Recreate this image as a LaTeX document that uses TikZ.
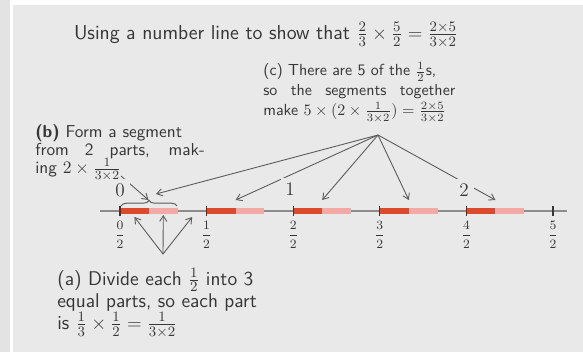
\documentclass[tikz,border=0pt]{standalone}
\usepackage{amsmath}
\usepackage{xcolor}
\usepackage{tikz}
\usetikzlibrary{positioning, arrows.meta, decorations.pathreplacing, calc}
\definecolor{panelgray}{HTML}{E9E9E9}
\definecolor{edgegray}{HTML}{E3E3E3}
\definecolor{inkgray}{HTML}{363636}
\definecolor{arrowgray}{HTML}{5A5A5A}
\definecolor{axisgray}{HTML}{8C8C8C}
\definecolor{partred}{HTML}{DC4A2E}
\definecolor{partpink}{HTML}{F3A9A6}
\newcommand\snugleading{\lineskiplimit=-20pt\relax\lineskip=0pt\relax}

\begin{document}
\begin{tikzpicture}[x=0.625pt, y=-0.625pt, font=\sffamily, text=inkgray,
  note/.style={inner sep=0pt, anchor=north west, align=justify},
  pointer/.style={-{Straight Barb[length=3.5pt,width=4.5pt]}, arrowgray, line width=0.55pt},
  halfmark/.style={inner sep=1pt, font=\fontsize{8.5}{10}\selectfont},
  wholemark/.style={inner sep=3pt, fill=panelgray, font=\large}]
  \useasboundingbox (0,0) rectangle (583,352);
  \fill[edgegray] (0,0) rectangle (583,352);
  \fill[white] (10,0) rectangle (583,5);
  \fill[white] (10,0) rectangle (13,352);
  \fill[panelgray] (13,5) rectangle (583,352);

  \node[font=\fontsize{12.6}{15}\selectfont\sffamily] (title) at (266,35)
    {Using a number line to show that $\frac{2}{3}\times\frac{5}{2}=\frac{2\times5}{3\times2}$};

  % number line
  \coordinate (lstart) at (100,211);
  \coordinate (lend) at (567,211);
  \draw[axisgray, line width=1pt] (lstart) -- (lend);
  \foreach \k in {0,...,5}
    \coordinate (t\k) at ({120+86.6*\k},211);
  \foreach \k in {0,...,4} {
    \draw[partred, line width=3.6pt] (t\k) -- ++(28.9,0);
    \draw[partpink, line width=3.6pt] ($(t\k)+(28.9,0)$) -- ++(28.9,0);
  }
  \foreach \k in {0,...,5} {
    \draw[inkgray, line width=0.8pt] ($(t\k)+(0,-5)$) -- ($(t\k)+(0,5)$);
    \node[halfmark] (f\k) at ($(t\k)+(0,24)$) {$\dfrac{\k}{2}$};
  }

  % brace over the first segment
  \coordinate (bracetip) at (148.5,200);
  \draw[arrowgray, line width=0.6pt, decorate, decoration={brace, amplitude=3.5pt}]
    (121,206) -- (177,206);

  % (b)
  \node[note, text width=106pt, font=\fontsize{10.8}{11.4}\selectfont\sffamily\snugleading] (stepb) at (35,124)
    {\textbf{(b)} Form a segment\\ from 2 parts, mak-\linebreak ing $2\times\frac{1}{3\times2}$};
  \coordinate (bfoot) at (121,176);
  \draw[pointer] (bfoot) -- (bracetip);

  % (c)
  \node[note, text width=120pt, font=\fontsize{10}{12.4}\selectfont\sffamily] (stepc) at (263,62)
    {(c) There are 5 of the $\frac{1}{2}$s,\\ so the segments together\linebreak make $5\times(2\times\frac{1}{3\times2})=\frac{2\times5}{3\times2}$};
  \coordinate (cfan) at (378,135);
  \coordinate (hit0) at (156,194);
  \foreach \k in {1,...,4}
    \coordinate (hit\k) at ($(t\k)+(29,-11)$);
  \foreach \k in {0,...,4}
    \draw[pointer] (cfan) -- (hit\k);

  % (a)
  \node[note, text width=131pt, font=\fontsize{12.4}{12.6}\selectfont\sffamily] (stepa) at (57,268)
    {(a) Divide each $\frac{1}{2}$ into 3\\ equal parts, so each part\\ is $\frac{1}{3}\times\frac{1}{2}=\frac{1}{3\times2}$};
  \coordinate (afan) at (163,254);
  \foreach \k in {0,1,2}
    \coordinate (part\k) at ($(t0)+({14.4+28.9*\k},6)$);
  \draw[pointer] (afan) -- (part0);
  \draw[pointer] (afan) -- ($(part1)+(0,-2)$);
  \draw[pointer] (afan) -- (part2);

  % whole numbers above the line
  \node[wholemark] (w0) at (120,190) {$0$};
  \node[wholemark] (w1) at (290,189) {$1$};
  \node[wholemark] (w2) at (464,190) {$2$};
\end{tikzpicture}
\end{document}
